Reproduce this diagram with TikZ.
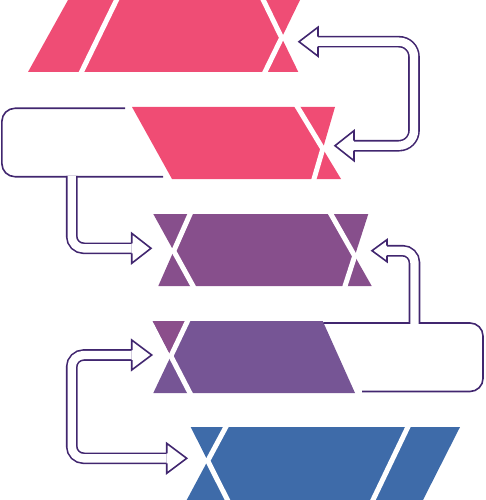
\documentclass[tikz,border=0pt]{standalone}
\usetikzlibrary{calc}
\definecolor{pinkA}{HTML}{EF4D75}
\definecolor{pinkB}{HTML}{F04C74}
\definecolor{purpA}{HTML}{874F8C}
\definecolor{purpB}{HTML}{765595}
\definecolor{purpC}{HTML}{8B4E8B}
\definecolor{blueA}{HTML}{3E6BA9}
\definecolor{ink}{HTML}{41266F}
\begin{document}
\begin{tikzpicture}[x=1pt,y=-1pt,
  cut/.style={white,line width=5pt,line join=round},
  loopline/.style={ink,line width=1.6pt,rounded corners=13pt},
  body/.style={draw=ink,line width=1.6pt,double=white,double distance=8.4pt,rounded corners=12pt},
  headline/.style={ink,line width=1.6pt,line join=miter}]
\useasboundingbox (0,0) rectangle (485,500);

% ---- band 1
\coordinate (b1x) at (intersection of 263.3,0--298.3,72 and 300,0--265,72);
\fill[pinkA] (28,72) -- (68,0) -- (300,0) -- (b1x) -- (298.3,72) -- cycle;
\draw[cut] (80.5,74) -- (117.5,-2);
\draw[cut] (262.3,-2) -- (b1x) -- (264,74);

% ---- band 2
\coordinate (b2x) at (intersection of 297.5,107--341,179 and 335,107--314,179);
\fill[pinkB] (132,107) -- (335,107) -- (b2x) -- (341,179) -- (172,179) -- cycle;
\draw[cut] (296.3,105) -- (b2x) -- (313.4,181);

% ---- band 3
\coordinate (b3l) at (intersection of 153.3,214--193,286 and 190,214--158.3,286);
\coordinate (b3r) at (intersection of 330.8,214--371.7,286 and 368.3,214--345,286);
\fill[purpA] (153.3,214) -- (368.3,214) -- (b3r) -- (371.7,286) -- (158.3,286) -- (b3l) -- cycle;
\draw[cut] (191,212) -- (b3l) -- (194.1,288);
\draw[cut] (329.7,212) -- (b3r) -- (344.4,288);

% ---- band 4
\coordinate (b4x) at (intersection of 152.7,321--190,393 and 187.5,321--153.3,393);
\fill[purpB] (152.7,321) -- (322.7,321) -- (355,393) -- (153.3,393) -- (b4x) -- cycle;
\fill[purpC] (152.7,321) -- (187.5,321) -- (b4x) -- cycle;
\draw[cut] (188.5,319) -- (b4x) -- (191,395);

% ---- band 5
\coordinate (b5x) at (intersection of 190.7,427--227.5,500 and 225.8,427--186.7,500);
\fill[blueA] (190.7,427) -- (460,427) -- (423,500) -- (186.7,500) -- (b5x) -- cycle;
\draw[cut] (226.9,425) -- (b5x) -- (228.5,502);
\draw[cut] (408.8,425) -- (372,502);

% ---- arrow A (band 2 -> band 1, right side)
\coordinate (aAs) at (354,145.7);
\coordinate (aAe) at (318,41.7);
\draw[body,rounded corners=15pt] (aAs) -- (414,145.7) -- (414,41.7) -- (aAe);
\draw[headline] ($(aAe)+(0,-5)$) -- ($(aAe)+(0,-14.5)$) -- ($(aAe)+(-19,0)$) -- ($(aAe)+(0,14.5)$) -- ($(aAe)+(0,5)$);
\draw[headline] ($(aAs)+(0,-5)$) -- ($(aAs)+(0,-15)$) -- ($(aAs)+(-19,0)$) -- ($(aAs)+(0,15)$) -- ($(aAs)+(0,5)$);

% ---- arrow B (loop round band 2 -> band 3, left side)
\coordinate (lBs) at (125,108.3);
\coordinate (lBe) at (163,176.7);
\draw[loopline] (lBs) -- (1.9,108.3) -- (1.9,176.7) -- (lBe);
\coordinate (aBs) at (71.7,175.9);
\coordinate (aBe) at (131.7,248.3);
\draw[body] (aBs) -- (71.7,248.3) -- (aBe);
\draw[headline] ($(aBe)+(0,-5)$) -- ($(aBe)+(0,-15)$) -- ($(aBe)+(19.3,0)$) -- ($(aBe)+(0,15)$) -- ($(aBe)+(0,5)$);

% ---- arrow C (loop round band 4 -> band 3, right side)
\coordinate (lCs) at (323.3,323);
\coordinate (lCe) at (362,391.5);
\draw[loopline] (lCs) -- (483,323) -- (483,391.5) -- (lCe);
\coordinate (aCs) at (414.5,323.8);
\coordinate (aCe) at (387,250.7);
\draw[body] (aCs) -- (414.5,250.7) -- (aCe);
\draw[headline] ($(aCe)+(0,-5)$) -- ($(aCe)+(0,-11)$) -- ($(aCe)+(-15,0)$) -- ($(aCe)+(0,11)$) -- ($(aCe)+(0,5)$);

% ---- arrow D (band 4 <-> band 5, left side)
\coordinate (aDs) at (131.7,355);
\coordinate (aDe) at (166.7,458.3);
\draw[body] (aDs) -- (71.7,355) -- (71.7,458.3) -- (aDe);
\draw[headline] ($(aDs)+(0,-5)$) -- ($(aDs)+(0,-15)$) -- ($(aDs)+(20,0)$) -- ($(aDs)+(0,15)$) -- ($(aDs)+(0,5)$);
\draw[headline] ($(aDe)+(0,-5)$) -- ($(aDe)+(0,-15)$) -- ($(aDe)+(20,0)$) -- ($(aDe)+(0,15)$) -- ($(aDe)+(0,5)$);
\end{tikzpicture}
\end{document}
